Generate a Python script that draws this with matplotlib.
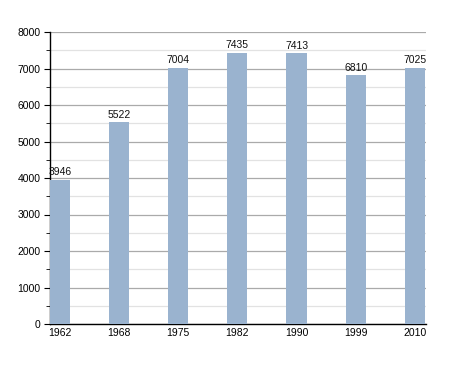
import matplotlib
matplotlib.use('Agg')
import matplotlib.pyplot as plt
from matplotlib.ticker import MultipleLocator

years = ['1962', '1968', '1975', '1982', '1990', '1999', '2010']
population = [3946, 5522, 7004, 7435, 7413, 6810, 7025]

plt.rcParams['font.family'] = ['Liberation Sans', 'DejaVu Sans']

fig = plt.figure(figsize=(4.55, 3.73), dpi=100)
ax = fig.add_axes([50 / 455, 1 - 324 / 373, 376 / 455, 292 / 373])

x = list(range(len(years)))
bars = ax.bar(x, population, width=0.34, color='#9ab3cf', zorder=3)
for b, v in zip(bars, population):
    ax.text(b.get_x() + b.get_width() / 2, v + 80, str(v), ha='center', va='bottom',
            fontsize=7.5, color='#111111', zorder=4)

ax.set_xlim(-0.17, 6.19)
ax.set_ylim(0, 8000)
ax.set_xticks(x)
ax.set_xticklabels(years)
ax.yaxis.set_major_locator(MultipleLocator(1000))
ax.yaxis.set_minor_locator(MultipleLocator(500))
ax.grid(axis='y', which='major', color='#aaaaaa', linewidth=0.9, zorder=0)
ax.grid(axis='y', which='minor', color='#e2e2e2', linewidth=0.9, zorder=0)

for s in ['top', 'right']:
    ax.spines[s].set_visible(False)
ax.spines['left'].set_linewidth(1.0)
ax.spines['bottom'].set_linewidth(1.0)
ax.tick_params(axis='x', length=0, labelsize=7.5, pad=3)
ax.tick_params(axis='y', which='major', length=4, labelsize=7.5, pad=3)
ax.tick_params(axis='y', which='minor', length=3)

fig.savefig('out.png', dpi=100, facecolor='white')
